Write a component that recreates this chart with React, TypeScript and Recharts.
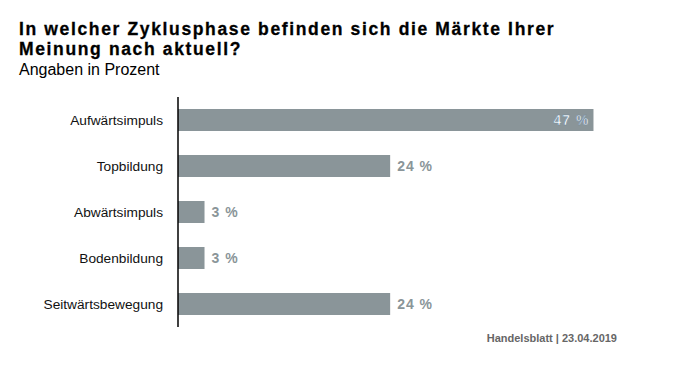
import { BarChart, Bar, XAxis, YAxis, LabelList } from 'recharts'

const titleLines = ['In welcher Zyklusphase befinden sich die Märkte Ihrer', 'Meinung nach aktuell?']
const categories = ['Aufwärtsimpuls', 'Topbildung', 'Abwärtsimpuls', 'Bodenbildung', 'Seitwärtsbewegung']
const values = [47, 24, 3, 3, 24]

const data = categories.map((name, i) => ({ name, value: values[i] }))

const BAR = '#8a9599'
const FONT = '"Liberation Sans", Arial, sans-serif'

function ValueLabel(props: any) {
  const { x, y, width, height, value } = props
  const cy = y + height / 2
  if (value > 40) {
    return (
      <text
        x={x + width - 4}
        y={cy}
        dy="0.36em"
        textAnchor="end"
        fontFamily={FONT}
        fontWeight="bold"
        fontSize={14}
        letterSpacing={1}
        fill="#ffffff"
        stroke="#6f8aa0"
        strokeWidth={0.6}
      >
        {value} %
      </text>
    )
  }
  return (
    <text
      x={x + width + 7}
      y={cy}
      dy="0.36em"
      textAnchor="start"
      fontFamily={FONT}
      fontWeight="bold"
      fontSize={14}
      letterSpacing={1}
      fill={BAR}
    >
      {value} %
    </text>
  )
}

export default function App() {
  return (
    <div style={{ position: 'fixed', left: 0, top: 0, width: 673, height: 391, background: '#fff', fontFamily: FONT }}>
      {titleLines.map((line, i) => (
        <div
          key={line}
          style={{
            position: 'absolute',
            left: 19,
            top: 20 + i * 19.5,
            height: 19.5,
            fontSize: 17.5,
            fontWeight: 'bold',
            lineHeight: '19.5px',
            letterSpacing: '1.64px',
            color: '#000',
            whiteSpace: 'nowrap',
            WebkitTextStroke: '0.3px #000',
          }}
        >
          {line}
        </div>
      ))}
      <div style={{ position: 'absolute', left: 19, top: 61, fontSize: 16, color: '#000' }}>
        Angaben in Prozent
      </div>
      <div style={{ position: 'absolute', left: 0, top: 0 }}>
        <BarChart
          width={673}
          height={391}
          data={data}
          layout="vertical"
          margin={{ top: 97, right: 53, bottom: 64, left: 0 }}
          barSize={22}
        >
          <XAxis type="number" domain={[0, 50]} hide />
          <YAxis
            type="category"
            dataKey="name"
            width={178}
            tickLine={false}
            tickMargin={9}
            axisLine={{ stroke: '#000', strokeWidth: 1.5 }}
            tick={{ fill: '#111', fontSize: 13.7, fontFamily: FONT }}
          />
          <Bar dataKey="value" fill={BAR} isAnimationActive={false}>
            <LabelList dataKey="value" content={ValueLabel} />
          </Bar>
        </BarChart>
      </div>
      <div style={{ position: 'absolute', right: 56, top: 332, fontSize: 11, fontWeight: 'bold', color: '#666' }}>
        Handelsblatt | 23.04.2019
      </div>
    </div>
  )
}
